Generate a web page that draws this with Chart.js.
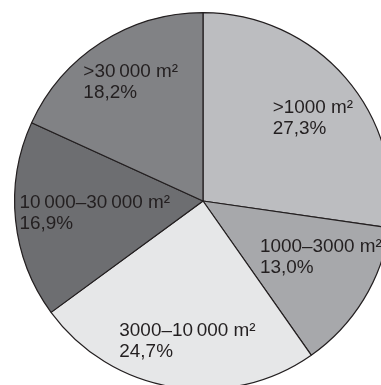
<!DOCTYPE html>
<html>
<head>
<meta charset="utf-8">
<script src="https://cdn.jsdelivr.net/npm/chart.js@4/dist/chart.umd.min.js"></script>
<style>
  html, body { margin: 0; padding: 0; background: #ffffff; overflow: hidden; width: 381px; height: 385px; }
  #wrap { position: absolute; left: 0; top: 0; width: 406px; height: 402px; }
</style>
</head>
<body>
<div id="wrap"><canvas id="pie" width="406" height="402"></canvas></div>
<script>
// Floor-area size classes and their shares (%)
const categories = ['>1000 m²', '1000–3000 m²', '3000–10\u2009000 m²', '10\u2009000–30\u2009000 m²', '>30\u2009000 m²'];
const shares = [27.3, 13.0, 24.7, 16.9, 18.2];
const sliceColors = ['#bcbdc0', '#a7a8ab', '#e6e7e8', '#6d6e71', '#818285'];

// Label anchor offsets from the pie centre, in units of the radius
const labelAnchors = [
  [0.370, -0.466],
  [0.302, 0.270],
  [-0.444, 0.714],
  [-0.974, 0.037],
  [-0.635, -0.656]
];

const sliceLabels = {
  id: 'sliceLabels',
  afterDatasetsDraw(chart, args, opts) {
    const ctx = chart.ctx;
    const meta = chart.getDatasetMeta(0);
    const arc0 = meta.data[0];
    const cx = arc0.x, cy = arc0.y, r = arc0.outerRadius;
    ctx.save();
    ctx.fillStyle = opts.color;
    ctx.font = opts.font;
    ctx.textAlign = 'left';
    ctx.textBaseline = 'alphabetic';
    chart.data.labels.forEach((lab, i) => {
      const a = opts.anchors[i];
      const x = cx + a[0] * r;
      const y = cy + a[1] * r;
      const pct = chart.data.datasets[0].data[i].toFixed(1).replace('.', ',') + '%';
      [lab, pct].forEach((line, k) => {
        ctx.save();
        ctx.translate(x, y + k * opts.lineHeight);
        ctx.scale(opts.stretch, 1);
        ctx.fillText(line, 0, 0);
        ctx.restore();
      });
    });
    ctx.restore();
  }
};

new Chart(document.getElementById('pie'), {
  type: 'pie',
  data: {
    labels: categories,
    datasets: [{
      data: shares,
      backgroundColor: sliceColors,
      borderColor: '#231f20',
      borderWidth: 1.2,
      borderAlign: 'center'
    }]
  },
  options: {
    responsive: false,
    devicePixelRatio: 1,
    animation: false,
    layout: { padding: 12 },
    plugins: {
      legend: { display: false },
      tooltip: { enabled: false },
      sliceLabels: {
        anchors: labelAnchors,
        font: '17.5px "Liberation Sans", Arial, sans-serif',
        color: '#231f20',
        lineHeight: 21,
        stretch: 1.08
      }
    }
  },
  plugins: [sliceLabels]
});
</script>
</body>
</html>
